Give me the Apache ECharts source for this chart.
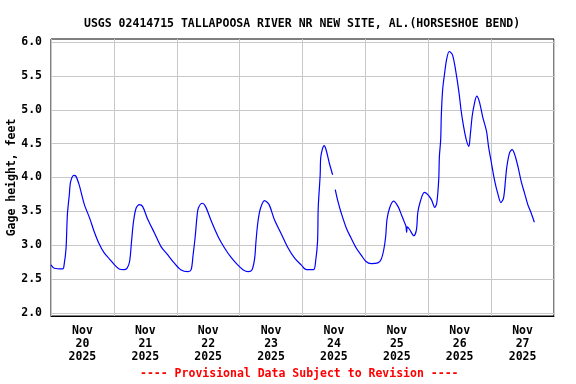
<!DOCTYPE html>
<html>
<head>
<meta charset="utf-8">
<script src="https://cdn.jsdelivr.net/npm/echarts@6/dist/echarts.min.js"></script>
<style>html,body{margin:0;padding:0;background:#fff}#c{width:576px;height:384px}</style>
</head>
<body>
<div id="c"></div>
<script>
const title = "USGS 02414715 TALLAPOOSA RIVER NR NEW SITE, AL.(HORSESHOE BEND)";
const yAxisName = "Gage height, feet";
const footer = "---- Provisional Data Subject to Revision ----";
const dayLabels = ["Nov\n20\n2025","Nov\n21\n2025","Nov\n22\n2025","Nov\n23\n2025","Nov\n24\n2025","Nov\n25\n2025","Nov\n26\n2025","Nov\n27\n2025"];
const xMin = "2025-11-20 00:00";
const xMax = "2025-11-28 00:00";
const yTicks = [2.0, 2.5, 3.0, 3.5, 4.0, 4.5, 5.0, 5.5, 6.0];

const times = [
"2025-11-20 00:00","2025-11-20 01:15","2025-11-20 04:30","2025-11-20 05:00","2025-11-20 05:45","2025-11-20 06:15","2025-11-20 07:00","2025-11-20 07:30","2025-11-20 08:45","2025-11-20 09:30","2025-11-20 10:45","2025-11-20 12:45","2025-11-20 14:45","2025-11-20 16:30","2025-11-20 18:30","2025-11-20 20:15","2025-11-20 22:15",
"2025-11-21 00:15","2025-11-21 02:00","2025-11-21 03:45","2025-11-21 05:00","2025-11-21 06:00","2025-11-21 06:45","2025-11-21 07:30","2025-11-21 08:30","2025-11-21 09:45","2025-11-21 11:00","2025-11-21 12:45","2025-11-21 15:30","2025-11-21 18:00","2025-11-21 20:30","2025-11-21 23:00",
"2025-11-22 01:30","2025-11-22 04:15","2025-11-22 05:30","2025-11-22 06:15","2025-11-22 07:00","2025-11-22 07:45","2025-11-22 08:15","2025-11-22 09:45","2025-11-22 11:00","2025-11-22 13:15","2025-11-22 15:45","2025-11-22 18:15","2025-11-22 20:45","2025-11-22 23:15",
"2025-11-23 01:15","2025-11-23 03:15","2025-11-23 04:45","2025-11-23 05:45","2025-11-23 06:15","2025-11-23 07:00","2025-11-23 08:00","2025-11-23 09:30","2025-11-23 11:15","2025-11-23 13:15","2025-11-23 16:00","2025-11-23 18:30","2025-11-23 21:00","2025-11-23 23:30",
"2025-11-24 01:30","2025-11-24 04:15","2025-11-24 05:00","2025-11-24 05:45","2025-11-24 06:00","2025-11-24 06:45","2025-11-24 07:00","2025-11-24 08:15","2025-11-24 09:00","2025-11-24 10:15","2025-11-24 11:30","2025-11-24 12:00","2025-11-24 12:30","2025-11-24 13:30","2025-11-24 14:45","2025-11-24 16:45","2025-11-24 18:30","2025-11-24 20:30","2025-11-24 22:30",
"2025-11-25 00:15","2025-11-25 02:15","2025-11-25 04:45","2025-11-25 06:00","2025-11-25 07:00","2025-11-25 07:45","2025-11-25 08:15","2025-11-25 09:15","2025-11-25 10:45","2025-11-25 12:30","2025-11-25 13:45","2025-11-25 15:00","2025-11-25 15:30","2025-11-25 15:45","2025-11-25 16:00","2025-11-25 16:45","2025-11-25 18:30","2025-11-25 19:30","2025-11-25 20:00","2025-11-25 21:00","2025-11-25 22:30","2025-11-25 23:45",
"2025-11-26 01:15","2025-11-26 02:30","2025-11-26 03:15","2025-11-26 04:00","2025-11-26 04:15","2025-11-26 04:45","2025-11-26 05:00","2025-11-26 05:30","2025-11-26 06:15","2025-11-26 07:00","2025-11-26 08:00","2025-11-26 09:15","2025-11-26 10:30","2025-11-26 11:45","2025-11-26 12:30","2025-11-26 13:30","2025-11-26 14:30","2025-11-26 15:30","2025-11-26 16:00","2025-11-26 16:45","2025-11-26 17:30","2025-11-26 18:30","2025-11-26 19:30","2025-11-26 20:45","2025-11-26 22:15","2025-11-26 23:00",
"2025-11-27 00:00","2025-11-27 01:15","2025-11-27 02:30","2025-11-27 03:45","2025-11-27 04:45","2025-11-27 05:30","2025-11-27 06:00","2025-11-27 07:00","2025-11-27 08:00","2025-11-27 09:00","2025-11-27 10:15","2025-11-27 11:30","2025-11-27 12:45","2025-11-27 14:00","2025-11-27 15:15","2025-11-27 16:30"
];
const gageHeight = [
2.71,2.66,2.65,2.71,2.96,3.45,3.75,3.94,4.03,4.02,3.89,3.60,3.40,3.20,3.01,2.89,2.80,
2.71,2.65,2.64,2.66,2.76,3.06,3.35,3.55,3.60,3.57,3.40,3.18,2.98,2.86,2.74,
2.64,2.61,2.64,2.86,3.11,3.43,3.55,3.62,3.57,3.35,3.13,2.96,2.82,2.71,
2.64,2.61,2.64,2.81,3.06,3.35,3.55,3.66,3.60,3.38,3.16,2.96,2.81,2.71,
2.64,2.64,2.76,3.06,3.55,4.04,4.31,4.47,4.41,4.21,4.04,null,3.82,3.65,3.48,3.25,3.11,2.96,2.85,
2.76,2.73,2.74,2.79,2.93,3.13,3.38,3.55,3.65,3.57,3.45,3.33,3.28,3.19,3.27,3.24,3.14,3.23,3.48,3.65,3.78,3.75,
3.67,3.56,3.62,3.97,4.31,4.56,4.93,5.30,5.54,5.74,5.86,5.81,5.57,5.25,5.00,4.75,4.56,4.46,4.61,4.90,5.07,5.20,5.12,4.90,4.68,4.46,
4.24,3.97,3.77,3.63,3.70,3.97,4.16,4.36,4.41,4.34,4.16,3.94,3.77,3.60,3.48,3.34
];

const FONT = "DejaVu Sans Mono";
const chart = echarts.init(document.getElementById('c'), null, {renderer: 'canvas'});
const seriesData = times.map((t, i) => [t, gageHeight[i]]);

chart.setOption({
  animation: false,
  backgroundColor: '#fff',
  title: {
    text: title, left: 79, top: 13,
    textStyle: {fontFamily: FONT, fontWeight: 'bold', fontSize: 11.5, color: '#000'}
  },
  graphic: [{
    type: 'text', left: 140, top: 368,
    style: {text: footer, fontFamily: FONT, fontWeight: 'bold', fontSize: 11.5, fill: '#ff0000'}
  }],
  grid: [
    {left: 51, right: 22, top: 39, bottom: 68, show: true, borderColor: '#000', borderWidth: 1, backgroundColor: 'transparent', containLabel: false, outerBoundsMode: 'none'},
    {left: 51, right: 22, top: 42, bottom: 71, containLabel: false, outerBoundsMode: 'none'}
  ],
  xAxis: [
    {
      type: 'category', gridIndex: 0, data: dayLabels, boundaryGap: true,
      axisLine: {show: true, lineStyle: {color: '#000', width: 1}},
      axisTick: {show: false},
      splitLine: {show: true, interval: 0, lineStyle: {color: '#c8c8c8', width: 1}},
      axisLabel: {interval: 0, margin: 9, fontFamily: FONT, fontWeight: 'bold', fontSize: 11.5, lineHeight: 13, color: '#000', align: 'center'}
    },
    {
      type: 'time', gridIndex: 1, min: xMin, max: xMax, show: false,
      splitLine: {show: false}
    }
  ],
  yAxis: [
    {type: 'value', gridIndex: 0, min: 0, max: 1, show: false},
    {
      type: 'value', gridIndex: 1, min: yTicks[0], max: yTicks[yTicks.length - 1], interval: 0.5,
      axisLine: {show: false}, axisTick: {show: false},
      splitLine: {show: true, lineStyle: {color: '#c8c8c8', width: 1}},
      axisLabel: {margin: 9, fontFamily: FONT, fontWeight: 'bold', fontSize: 11.5, color: '#000', formatter: v => v.toFixed(1)},
      name: yAxisName, nameLocation: 'middle', nameGap: 33, nameRotate: 90, nameMoveOverlap: false,
      nameTextStyle: {fontFamily: FONT, fontWeight: 'bold', fontSize: 11.5, color: '#000'}
    }
  ],
  series: [{
    type: 'line', xAxisIndex: 1, yAxisIndex: 1, data: seriesData,
    showSymbol: false, connectNulls: false, smooth: 0.3,
    lineStyle: {color: '#0000ff', width: 1.2}, z: 5
  }]
});
</script>
</body>
</html>
